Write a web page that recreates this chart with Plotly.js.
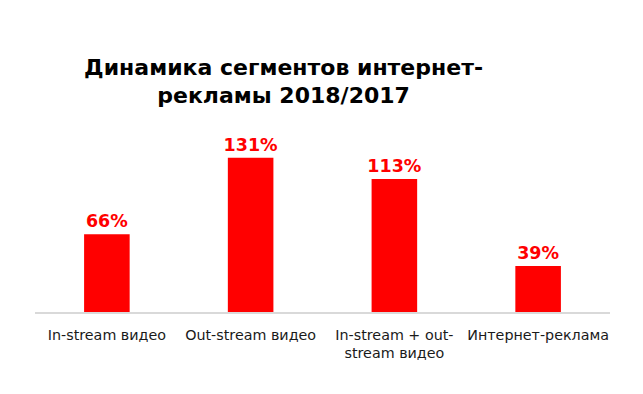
<!DOCTYPE html>
<html>
<head>
<meta charset="utf-8">
<script src="https://cdn.plot.ly/plotly-3.0.1.min.js"></script>
<style>html,body{margin:0;padding:0;background:#fff;}#chart{width:643px;height:394px;}</style>
</head>
<body>
<div id="chart"></div>
<script>
const categories = ["In-stream видео", "Out-stream видео", "In-stream + out-<br>stream видео", "Интернет-реклама"];
const values = [66, 131, 113, 39];
const valueLabels = ["66%", "131%", "113%", "39%"];
const titleText = "Динамика сегментов интернет-<br>рекламы 2018/2017";

const trace = {
  type: "bar",
  x: categories,
  y: values,
  text: valueLabels,
  textposition: "outside",
  constraintext: "none",
  cliponaxis: false,
  textfont: {family: "DejaVu Sans", size: 17.5, color: "#ff0000", weight: "bold"},
  marker: {color: "#ff0000"},
  hoverinfo: "none"
};

const layout = {
  width: 643,
  height: 394,
  margin: {l: 35, r: 33, t: 100, b: 81.5},
  paper_bgcolor: "#ffffff",
  plot_bgcolor: "#ffffff",
  bargap: 0.683,
  showlegend: false,
  title: {
    text: "<b>" + titleText + "</b>",
    font: {family: "DejaVu Sans", size: 22, color: "#000000"},
    xref: "container", x: 0.441, xanchor: "center",
    yref: "container", y: 0.81, yanchor: "top"
  },
  xaxis: {
    type: "category",
    showline: true, linecolor: "#d9d9d9", linewidth: 1.5,
    ticks: "", showgrid: false, zeroline: false,
    ticklabelstandoff: 9,
    tickfont: {family: "DejaVu Sans", size: 14.3, color: "#1a1a1a"}
  },
  yaxis: {
    range: [0, 180], visible: false, showgrid: false, zeroline: false
  }
};

Plotly.newPlot("chart", [trace], layout, {staticPlot: true, displayModeBar: false});
</script>
</body>
</html>
